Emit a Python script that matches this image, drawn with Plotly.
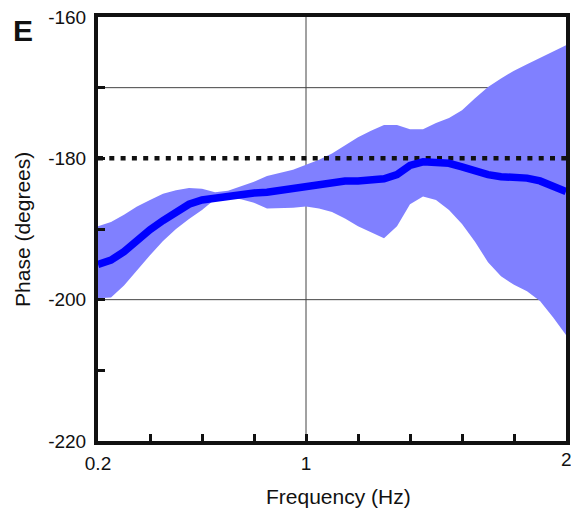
import plotly.graph_objects as go

freq = [0.20, 0.25, 0.30, 0.35, 0.40, 0.45, 0.50, 0.55, 0.60, 0.65, 0.70, 0.75,
        0.80, 0.85, 0.90, 0.95, 1.00, 1.05, 1.10, 1.15, 1.20, 1.25, 1.30, 1.35,
        1.40, 1.45, 1.50, 1.55, 1.60, 1.65, 1.70, 1.75, 1.80, 1.85, 1.90, 1.95, 2.00]
phase_mean = [-195.0, -194.4, -193.2, -191.6, -190.1, -188.8, -187.5, -186.5, -185.9, -185.6,
              -185.3, -185.1, -184.9, -184.8, -184.5, -184.2, -183.9, -183.6, -183.4, -183.2,
              -183.2, -183.1, -182.9, -182.3, -181.0, -180.5, -180.5, -180.7, -181.2, -181.8,
              -182.3, -182.6, -182.7, -182.8, -183.2, -183.9, -184.7]
phase_upper = [-189.6, -189.0, -188.0, -186.8, -185.9, -185.0, -184.5, -184.2, -184.3, -184.8,
               -184.6, -184.0, -183.3, -182.5, -182.0, -181.6, -180.9, -180.2, -179.3, -178.2,
               -177.0, -176.1, -175.3, -175.3, -175.9, -175.9, -175.0, -174.3, -173.2, -171.5,
               -169.9, -168.7, -167.6, -166.7, -165.8, -164.9, -164.0]
phase_lower = [-199.8, -199.7, -198.0, -195.8, -193.7, -191.7, -190.0, -188.6, -187.3, -185.8,
               -185.5, -185.8, -186.3, -187.1, -187.1, -187.0, -186.8, -187.1, -187.6, -188.5,
               -189.6, -190.4, -191.3, -189.6, -186.5, -185.4, -185.9, -187.3, -189.3, -191.8,
               -194.7, -196.7, -197.9, -198.8, -200.2, -202.5, -205.0]
reference_phase = -180
x_tickvals = [0.2, 0.4, 0.6, 0.8, 1.0, 1.2, 1.4, 1.6, 1.8, 2.0]
x_ticktext = ["0.2", "", "", "", "1", "", "", "", "", "2"]
y_tickvals = [-220, -210, -200, -190, -180, -170, -160]
y_ticktext = ["-220", "", "-200", "", "-180", "", "-160"]
grid_y = [-170, -200]
grid_x = [1.0]

fig = go.Figure()
fig.add_trace(go.Scatter(x=freq, y=phase_upper, mode="lines", line=dict(width=0),
                         showlegend=False, hoverinfo="skip"))
fig.add_trace(go.Scatter(x=freq, y=phase_lower, mode="lines", line=dict(width=0),
                         fill="tonexty", fillcolor="#8080FF", showlegend=False, hoverinfo="skip"))
fig.add_trace(go.Scatter(x=[freq[0], freq[-1]], y=[reference_phase, reference_phase], mode="lines",
                         line=dict(color="#111111", width=4.5, dash="5px,6.3px"), showlegend=False))
fig.add_trace(go.Scatter(x=freq, y=phase_mean, mode="lines",
                         line=dict(color="#0000FF", width=7.5), showlegend=False))

for gy in grid_y:
    fig.add_shape(type="line", xref="x", yref="y", x0=freq[0], x1=freq[-1], y0=gy, y1=gy,
                  line=dict(color="#444444", width=1), layer="below")
for gx in grid_x:
    fig.add_shape(type="line", xref="x", yref="y", x0=gx, x1=gx, y0=-220, y1=-160,
                  line=dict(color="#444444", width=1), layer="below")

# The last x tick label sits on the figure's right edge (partly cut off, as in the
# reference); Plotly hides overflowing tick labels, so draw that one as an annotation.
edge_label = x_ticktext[-1]
axis_ticktext = x_ticktext[:-1] + [""]

font_family = "Liberation Sans, Arial, sans-serif"
fig.update_layout(
    width=571, height=508,
    margin=dict(l=98, r=5, t=17, b=67),
    paper_bgcolor="white", plot_bgcolor="white",
    font=dict(family=font_family, size=19, color="#111111"),
    xaxis=dict(range=[0.2, 2.0], tickvals=x_tickvals, ticktext=axis_ticktext,
               ticks="inside", ticklen=7, tickwidth=3, tickcolor="#111111",
               showline=True, linewidth=4, linecolor="#111111", mirror=True,
               showgrid=False, zeroline=False, automargin=False, ticklabelstandoff=2),
    yaxis=dict(range=[-220, -160], tickvals=y_tickvals, ticktext=y_ticktext,
               ticks="inside", ticklen=7, tickwidth=3, tickcolor="#111111",
               showline=True, linewidth=4, linecolor="#111111", mirror=True,
               showgrid=False, zeroline=False, automargin=False, ticklabelstandoff=4),
    annotations=[
        dict(text="<b>E</b>", xref="paper", yref="paper", x=-0.16, y=0.969,
             showarrow=False, font=dict(size=30, color="#111111"),
             xanchor="center", yanchor="middle"),
        dict(text="Frequency (Hz)", xref="paper", yref="paper", x=0.514, y=-0.130,
             showarrow=False, font=dict(size=21, color="#111111"),
             xanchor="center", yanchor="middle"),
        dict(text="Phase (degrees)", xref="paper", yref="paper", x=-0.16, y=0.498,
             showarrow=False, font=dict(size=21, color="#111111"), textangle=-90,
             xanchor="center", yanchor="middle"),
        dict(text=edge_label, xref="x", yref="paper", x=x_tickvals[-1], y=0,
             yshift=-6, showarrow=False, font=dict(size=19, color="#111111"),
             xanchor="center", yanchor="top"),
    ],
)

fig.write_html("out.html", config={"displayModeBar": False},
               post_script="document.body.style.margin='0';document.body.style.padding='0';")
